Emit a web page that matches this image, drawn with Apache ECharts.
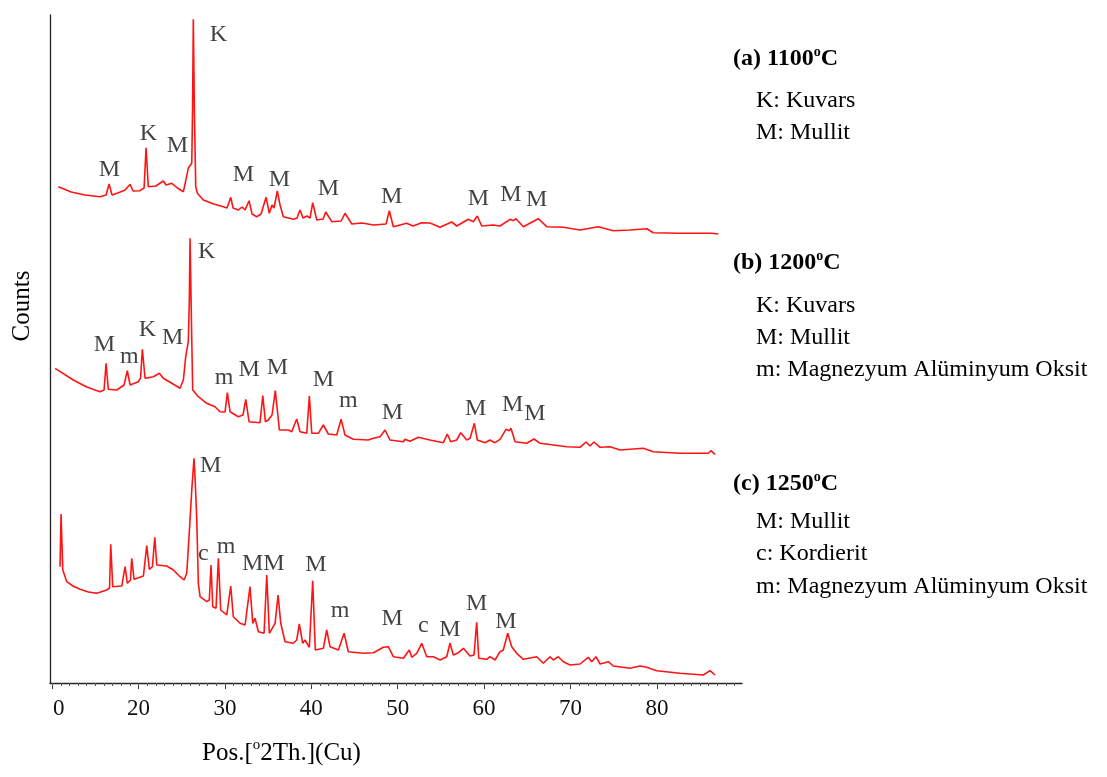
<!DOCTYPE html>
<html>
<head>
<meta charset="utf-8">
<script src="https://cdn.jsdelivr.net/npm/echarts@6/dist/echarts.min.js"></script>
<style>
html,body{margin:0;padding:0;background:#fff;}
#c{width:1107px;height:777px;}
</style>
</head>
<body>
<div id="c"></div>
<script>
// ---- x axis (2θ, degrees) ----
const xMin = 9.75, xMax = 89.85;
const majorTickValues = [10, 20, 30, 40, 50, 60, 70, 80];
const tickLabelValues = [10.75, 20, 30, 40, 50, 60, 70, 80];
const tickLabels = ['0', '20', '30', '40', '50', '60', '70', '80'];
const minorTickValues = [];
for (let v = 10; v <= 89; v++) minorTickValues.push(v);

// ---- traces: [2θ, counts (arbitrary, stacked offsets)] ----
const trace1100 = [
[10.72,496.3],[12.2,491],[13.8,488],[15.54,486.3],[16.24,488],[16.59,499],[16.93,488],[17.6,490],[18.44,493],[19.02,498.7],[19.36,492],
[20.17,492.3],[20.64,495],[20.87,535.3],[21.13,496.3],[22.0,497],[22.87,502],[23.18,498],[23.84,499.7],[24.5,495],[25.19,491.3],
[25.76,514.7],[26.16,520],[26.25,573],[26.34,663.7],[26.46,573],[26.62,496.3],[26.81,489.7],[27.5,483],[28.7,479],
[29.81,476.3],[30.24,475],[30.67,485.7],[30.94,475],[31.55,473],[31.98,476],[32.33,473],[32.79,482.3],
[33.14,469],[33.68,466.3],[34.18,469],[34.76,485.7],[35.14,469.7],[35.45,478],[35.68,475],[36.06,492],
[36.38,478],[36.76,466.3],[37.92,463.7],[38.35,465],[38.69,473],[39.04,465],[39.5,467],[39.85,465],
[40.16,480.3],[40.63,463],[41.36,464],[41.67,471],[42.36,461.3],[43.44,462],[43.9,469.7],[44.68,459],
[45.9,460],[47.18,458],[48.65,459],[49.03,472.3],[49.49,456.3],[51.04,459.7],[51.77,457],[52.78,460.3],[53.74,460],
[54.9,455.7],[56.25,461],[56.83,457],[58.17,463.7],[58.75,461.3],[59.21,467],[59.72,457],[61.03,458],
[61.84,457],[63.0,463.7],[63.38,462.3],[63.69,464.3],[64.54,456.3],[66.27,464.3],[67.25,456.3],[69.17,455.7],
[71.1,453],[73.22,456.3],[74.95,452.3],[76.89,453],[78.82,454.3],[79.58,450.3],[82.67,449.7],[86.34,449.7],
[86.53,451],[87.11,449]
];
const trace1200 = [
[10.34,314.7],[12.45,303],[14.0,296],[15.54,291.3],[16.01,293],[16.24,319.7],[16.5,293.7],[17.48,293],[18.32,298],
[18.7,312.3],[19.02,298],[19.98,301.3],[20.23,305],[20.44,333.7],[20.75,304.7],[21.71,306.3],[22.41,309.7],
[22.87,304.7],[23.8,300],[24.8,294.7],[25.19,303],[25.46,326.3],[25.76,341.3],[25.88,383],[25.96,444.7],[26.08,383],
[26.16,343],[26.27,293],[26.92,286.3],[27.89,279.7],[28.85,276.3],[29.43,271.3],[30.01,271],[30.28,290.3],
[30.59,271.3],[31.55,266.3],[32.09,268],[32.41,283.7],[32.79,261.3],[34.06,260.3],[34.38,287.3],[34.68,261.3],
[35.02,263],[35.45,268],[35.83,292.3],[36.3,253],[37.34,253],[37.73,251.3],[38.31,264],[38.69,251.3],
[39.47,249.7],[39.77,287],[40.05,249.7],[40.81,249.7],[41.39,258],[41.97,249],[42.94,248],[43.44,263.7],
[43.9,248],[44.86,243.7],[46.6,243],[47.18,244.7],[47.95,246.3],[48.53,253],[49.1,243],[50.65,241.3],
[50.84,243.7],[51.42,241.7],[52.38,245.7],[53.74,243],[55.28,240.3],[55.74,249],[56.13,241.3],[56.83,243],
[57.29,250.3],[57.99,243],[58.37,244.7],[58.87,259.7],[59.21,243],[60.1,240.3],[60.68,243],[61.26,240.3],
[61.84,243.7],[62.53,253.7],[62.92,252.3],[63.11,254.7],[63.58,241.3],[64.93,239.7],[65.78,244],[66.47,239.7],
[68.01,238],[69.56,236.3],[71.1,235.7],[71.8,241],[72.26,237],[72.72,241],[73.42,235.7],[74.57,236.3],
[75.74,233],[78.43,234.7],[79.58,231.3],[82.67,229.7],[85.95,229.7],[86.26,232.3],[86.72,228.7]
];
const trace1250 = [
[10.91,116.3],[11.03,169],[11.23,113],[11.69,101.3],[12.4,97],[13.23,93.7],[14.2,91],[15.16,89.7],[16.32,93],[16.64,95],
[16.78,138.7],[17.01,96.3],[18.06,97],[18.44,116.3],[18.7,99.7],[19.07,103],[19.21,124.7],[19.48,103.7],
[20.56,107],[20.95,137.3],[21.25,113.7],[21.6,116.3],[21.88,145.7],[22.11,118],[23.26,117],[24.03,113],
[24.8,106.3],[25.27,103],[25.58,109.7],[25.76,134.7],[25.96,163],[26.16,193],[26.42,224.7],[26.57,199.7],
[26.74,163],[26.92,99.7],[27.12,86.3],[27.89,81.3],[28.19,83],[28.39,118],[28.59,76.3],[28.97,74.7],
[29.24,124.7],[29.51,73],[30.21,68],[30.67,97],[30.97,66.3],[31.75,59.7],[32.33,58],[32.9,96.3],
[33.22,59.7],[33.48,64.7],[33.87,51.3],[34.53,49.7],[34.84,108],[35.14,49.7],[35.8,59.7],[36.15,88],
[36.46,59.7],[36.96,41.3],[37.92,39.7],[38.31,43],[38.61,59],[39.0,39.7],[39.27,43],[39.77,35.7],
[40.16,102.3],[40.46,33],[41.39,34.7],[41.78,53],[42.16,36.3],[43.13,33],[43.79,49.7],[44.28,31.3],
[46.02,29.7],[47.18,30.3],[48.33,35.7],[48.53,37],[48.91,36.3],[49.49,26.3],[50.65,24.7],[51.34,33],
[51.62,25.7],[52.2,29.7],[52.78,39.7],[53.36,26.3],[54.12,26.3],[54.9,23],[55.67,26.3],[56.05,39.7],
[56.44,28],[57.02,30.3],[57.6,34.7],[58.37,27],[58.83,28],[59.14,60.7],[59.38,24.7],[60.3,23.7],
[60.68,26.3],[61.26,23],[61.84,31.3],[62.22,33],[62.73,49.7],[63.19,36.3],[63.77,29.7],[64.54,23.7],
[66.09,26.3],[66.85,19.7],[67.63,26.3],[68.01,23],[68.59,26.3],[69.17,21.3],[69.94,18],[71.1,19],
[72.06,25.7],[72.45,21.3],[72.95,26.3],[73.42,19],[74.38,21.3],[74.95,17],[76.89,14.7],[78.04,17],
[78.82,15.7],[79.98,12.3],[82.67,9.7],[85.37,8],[86.15,12.3],[86.72,8]
];

// ---- peak annotations: [2θ, counts, text] ----
const peakLabels1100 = [
[29.24,648,'K'],[21.13,549.7,'K'],[24.49,537.3,'M'],[16.62,513,'M'],[32.13,508.7,'M'],[36.3,503,'M'],
[41.97,494.7,'M'],[49.31,486.5,'M'],[59.33,484,'M'],[63.11,488,'M'],[66.09,483,'M']
];
const peakLabels1200 = [
[27.89,431.3,'K'],[16.04,338,'M'],[18.94,326,'m'],[21.02,353.7,'K'],[23.96,345.7,'M'],[29.9,305,'m'],
[32.79,313,'M'],[36.06,315.3,'M'],[41.39,303,'M'],[44.28,282,'m'],[49.38,270.2,'M'],[59.03,274,'M'],
[63.31,278.7,'M'],[65.89,269.7,'M']
];
const peakLabels1250 = [
[28.36,217,'M'],[27.5,129,'c'],[30.13,136,'m'],[34.44,119,'MM'],[40.54,118.7,'M'],[43.32,72,'m'],
[49.35,64.4,'M'],[52.96,57,'c'],[56.05,53,'M'],[59.14,79.7,'M'],[62.53,61.3,'M']
];

// ---- legend texts ----
const legendBlocks = [
  {title: ['(a) 1100', 'C'], items: ['K: Kuvars', 'M: Mullit']},
  {title: ['(b) 1200', 'C'], items: ['K: Kuvars', 'M: Mullit', 'm: Magnezyum Alüminyum Oksit']},
  {title: ['(c) 1250', 'C'], items: ['M: Mullit', 'c: Kordierit', 'm: Magnezyum Alüminyum Oksit']}
];
const xAxisTitle = ['Pos.[', 'o', '2Th.](Cu)'];
const yAxisTitle = 'Counts';

const SERIF = '"Liberation Serif", "Times New Roman", serif';
const RED = '#ff1414';

const chart = echarts.init(document.getElementById('c'), null, {renderer: 'canvas'});

function traceSeries(data) {
  return {
    type: 'line', data: data, xAxisIndex: 0, yAxisIndex: 0,
    showSymbol: false, symbol: 'none', silent: true,
    lineStyle: {color: RED, width: 1.6}, z: 3
  };
}
function labelSeries(data) {
  return {
    type: 'scatter', data: data, xAxisIndex: 0, yAxisIndex: 0,
    symbolSize: 0, silent: true, z: 4,
    label: {
      show: true, position: 'inside', formatter: p => p.data[2],
      fontFamily: SERIF, fontSize: 24, color: '#111',
      align: 'center', verticalAlign: 'middle'
    }
  };
}

const graphics = [];
const blockTops = [[59, 101, 133], [263, 306, 338, 370], [484, 522, 554, 587]];
legendBlocks.forEach((b, i) => {
  const ys = blockTops[i];
  graphics.push({
    type: 'text', left: 733, top: ys[0] - 14,
    style: {
      text: '{b|' + b.title[0] + '}{s|o}{b|' + b.title[1] + '}',
      rich: {
        b: {fontFamily: SERIF, fontSize: 24, fontWeight: 'bold', color: '#111', lineHeight: 28},
        s: {fontFamily: SERIF, fontSize: 14, fontWeight: 'bold', color: '#111', lineHeight: 16, verticalAlign: 'top'}
      }
    }
  });
  b.items.forEach((t, j) => {
    graphics.push({
      type: 'text', left: 756, top: ys[j + 1] - 14,
      style: {text: t, fontFamily: SERIF, fontSize: 24, color: '#111', lineHeight: 28}
    });
  });
});
graphics.push({
  type: 'text', left: 202, top: 738,
  style: {
    text: '{n|' + xAxisTitle[0] + '}{s|' + xAxisTitle[1] + '}{n|' + xAxisTitle[2] + '}',
    rich: {
      n: {fontFamily: SERIF, fontSize: 25, color: '#111', lineHeight: 30},
      s: {fontFamily: SERIF, fontSize: 15, color: '#111', lineHeight: 18, verticalAlign: 'top'}
    }
  }
});
graphics.push({
  type: 'text', x: 22, y: 306, rotation: Math.PI / 2,
  style: {text: yAxisTitle, fontFamily: SERIF, fontSize: 25, color: '#111', align: 'center', verticalAlign: 'middle'}
});

const option = {
  animation: false,
  backgroundColor: '#fff',
  grid: {left: 50, right: 365, top: 15, bottom: 94, containLabel: false},
  xAxis: [
    {
      type: 'value', min: xMin, max: xMax, position: 'bottom',
      axisLine: {show: true, onZero: false, lineStyle: {color: '#222', width: 1.3}},
      axisTick: {show: true, inside: false, length: 6, customValues: majorTickValues, lineStyle: {color: '#333', width: 1}},
      axisLabel: {
        show: true, customValues: tickLabelValues, margin: 14,
        formatter: v => { const i = tickLabelValues.indexOf(v); return i >= 0 ? tickLabels[i] : ''; },
        fontFamily: SERIF, fontSize: 23, color: '#111'
      },
      splitLine: {show: false}
    },
    {
      type: 'value', min: xMin, max: xMax, position: 'bottom',
      axisLine: {show: false, onZero: false},
      axisTick: {show: true, inside: false, length: 3, customValues: minorTickValues, lineStyle: {color: '#555', width: 1}},
      axisLabel: {show: false},
      splitLine: {show: false}
    }
  ],
  yAxis: {
    type: 'value', min: 0, max: 668,
    axisLine: {show: true, onZero: false, lineStyle: {color: '#222', width: 1.3}},
    axisTick: {show: false}, axisLabel: {show: false}, splitLine: {show: false}
  },
  series: [
    traceSeries(trace1100), traceSeries(trace1200), traceSeries(trace1250),
    labelSeries(peakLabels1100), labelSeries(peakLabels1200), labelSeries(peakLabels1250)
  ],
  graphic: graphics
};
chart.setOption(option);
</script>
</body>
</html>
